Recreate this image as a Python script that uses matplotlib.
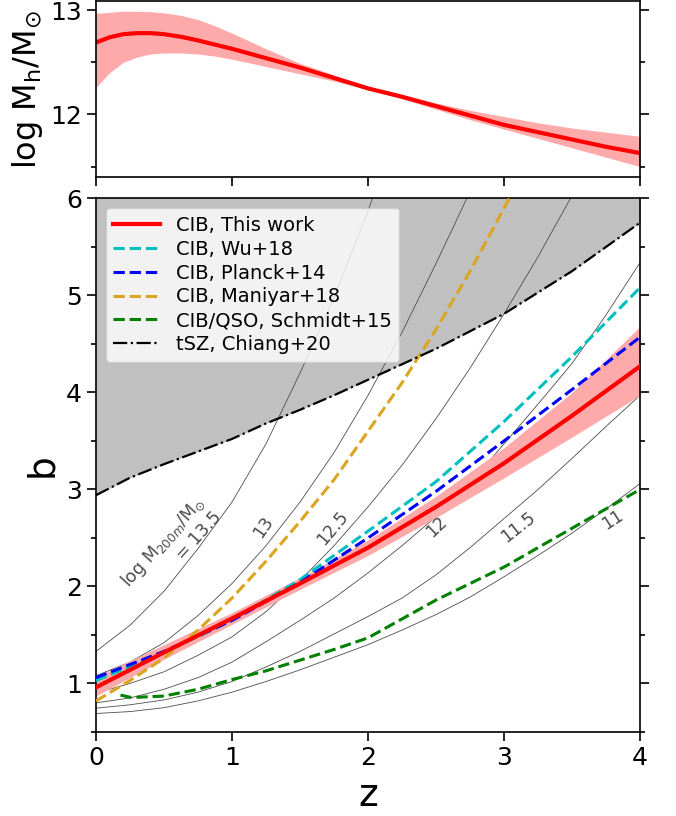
import matplotlib
matplotlib.use("Agg")
import matplotlib.pyplot as plt
from matplotlib.ticker import MultipleLocator

# --- top panel: halo mass vs redshift ---
z_top = [0.0, 0.1, 0.2, 0.3, 0.4, 0.5, 0.625, 0.75, 0.875, 1.0, 1.25, 1.5, 1.75,
         2.0, 2.25, 2.5, 2.75, 3.0, 3.25, 3.5, 3.75, 4.0]
logmh = [12.69, 12.74, 12.77, 12.78, 12.78, 12.77, 12.745, 12.71, 12.67, 12.63,
         12.54, 12.45, 12.35, 12.25, 12.17, 12.08, 11.99, 11.90, 11.83, 11.76,
         11.69, 11.63]
logmh_hi = [12.97, 12.98, 12.99, 12.99, 12.985, 12.975, 12.95, 12.91, 12.85, 12.78,
            12.63, 12.49, 12.38, 12.27, 12.19, 12.11, 12.04, 11.98, 11.92, 11.87,
            11.83, 11.79]
logmh_lo = [12.26, 12.40, 12.50, 12.55, 12.58, 12.59, 12.59, 12.58, 12.56, 12.53,
            12.46, 12.39, 12.32, 12.24, 12.15, 12.05, 11.95, 11.86, 11.77, 11.68,
            11.59, 11.50]

# --- bottom panel: bias vs redshift ---
z_b = [0.0, 0.5, 1.0, 1.5, 2.0, 2.5, 3.0, 3.5, 4.0]
b_this = [0.96, 1.32, 1.67, 2.03, 2.40, 2.82, 3.27, 3.76, 4.27]
b_this_hi = [1.07, 1.40, 1.73, 2.09, 2.48, 2.93, 3.43, 4.00, 4.68]
b_this_lo = [0.87, 1.25, 1.61, 1.97, 2.32, 2.71, 3.12, 3.54, 3.97]
b_wu = [1.03, 1.32, 1.65, 2.07, 2.57, 3.08, 3.70, 4.37, 5.08]
b_planck = [1.06, 1.33, 1.65, 2.04, 2.50, 2.98, 3.50, 4.03, 4.57]

z_man = [0.0, 0.25, 0.5, 0.75, 1.0, 1.25, 1.5, 1.75, 2.0, 2.25, 2.5, 2.75, 3.0, 3.25]
b_man = [0.82, 1.03, 1.26, 1.55, 1.88, 2.26, 2.67, 3.10, 3.60, 4.10, 4.65, 5.25, 5.90, 6.55]

z_sch = [0.18, 0.26, 0.5, 0.75, 1.0, 1.25, 1.5, 1.75, 2.0, 2.5, 3.0, 3.5, 4.0]
b_sch = [0.88, 0.855, 0.87, 0.94, 1.04, 1.13, 1.24, 1.35, 1.47, 1.86, 2.20, 2.60, 3.00]

z_tsz = [0.0, 0.25, 0.5, 0.75, 1.0, 1.25, 1.5, 1.75, 2.0, 2.5, 3.0, 3.5, 4.0]
b_tsz = [2.94, 3.12, 3.26, 3.39, 3.52, 3.68, 3.82, 3.97, 4.13, 4.45, 4.81, 5.25, 5.75]

# constant-mass bias tracks, log M200m = 13.5 ... 11
z_m = [0.0, 0.25, 0.5, 0.75, 1.0, 1.25, 1.5, 1.75, 2.0, 2.25, 2.5, 2.75, 3.0,
       3.25, 3.5, 3.75, 4.0]
b_m135 = [1.33, 1.60, 1.95, 2.39, 2.87, 3.47, 4.20, 4.98, 5.87, 6.90]
b_m13 = [1.08, 1.22, 1.42, 1.70, 2.03, 2.42, 2.87, 3.38, 3.97, 4.62, 5.33, 6.07, 6.90]
b_m125 = [0.90, 1.00, 1.12, 1.29, 1.48, 1.74, 2.06, 2.42, 2.82, 3.25, 3.73, 4.25,
          4.81, 5.40, 6.03]
b_m12 = [0.80, 0.85, 0.94, 1.06, 1.22, 1.43, 1.65, 1.88, 2.14, 2.42, 2.72, 3.06,
         3.47, 3.88, 4.30, 4.80, 5.34]
b_m115 = [0.745, 0.78, 0.83, 0.91, 1.02, 1.17, 1.33, 1.51, 1.69, 1.88, 2.12, 2.40,
          2.70, 3.00, 3.32, 3.65, 3.97]
b_m11 = [0.69, 0.71, 0.75, 0.82, 0.91, 1.02, 1.14, 1.27, 1.40, 1.55, 1.71, 1.89,
         2.10, 2.32, 2.55, 2.80, 3.06]
mass_tracks = [b_m135, b_m13, b_m125, b_m12, b_m115, b_m11]

track_labels = ["log M$_{200m}$/M$_{⊙}$\n= 13.5", "13", "12.5", "12", "11.5", "11"]
label_z = [0.55, 1.23, 1.74, 2.50, 3.10, 3.80]
label_b = [2.39, 2.61, 2.60, 2.61, 2.61, 2.69]
label_rot = [48, 55, 50, 44, 38, 33]

fig = plt.figure(figsize=(6.76, 8.16), dpi=100)
ax1 = fig.add_axes([0.142, 0.783, 0.805, 0.216])
ax2 = fig.add_axes([0.142, 0.103, 0.805, 0.654])

# top panel
ax1.fill_between(z_top, logmh_lo, logmh_hi, color="#ffaaaa", lw=0)
ax1.plot(z_top, logmh, color="red", lw=3)
ax1.set_xlim(0, 4)
ax1.set_ylim(11.4, 13.09)
ax1.yaxis.set_major_locator(MultipleLocator(1))
ax1.yaxis.set_minor_locator(MultipleLocator(0.5))
ax1.xaxis.set_major_locator(MultipleLocator(1))
ax1.tick_params(axis="x", labelbottom=False)
ax1.set_ylabel("log M$_\\mathrm{h}$/M$_{⊙}$", fontsize=23)

# bottom panel
ax2.fill_between(z_tsz, b_tsz, 6.5, color="silver", lw=0, zorder=0)
for bm in mass_tracks:
    ax2.plot(z_m[:len(bm)], bm, color="0.3", lw=0.6, zorder=1)
for txt, lz, lb, rot in zip(track_labels, label_z, label_b, label_rot):
    ax2.text(lz, lb, txt, rotation=rot, ha="center", va="center", fontsize=12.5,
             color="0.3", multialignment="right", rotation_mode="anchor")

ax2.fill_between(z_b, b_this_lo, b_this_hi, color="#ffaaaa", lw=0, zorder=2)
ax2.plot(z_b, b_this, color="red", lw=3, label="CIB, This work", zorder=5)
ax2.plot(z_b, b_wu, color="c", ls="--", lw=2.2, label="CIB, Wu+18", zorder=3)
ax2.plot(z_b, b_planck, color="blue", ls="--", lw=2.2, label="CIB, Planck+14", zorder=4)
ax2.plot(z_man, b_man, color="goldenrod", ls="--", lw=2.2, label="CIB, Maniyar+18", zorder=3)
ax2.plot(z_sch, b_sch, color="green", ls="--", lw=2.2, label="CIB/QSO, Schmidt+15", zorder=3)
ax2.plot(z_tsz, b_tsz, color="black", ls="-.", lw=1.6, label="tSZ, Chiang+20", zorder=3)

ax2.set_xlim(0, 4)
ax2.set_ylim(0.5, 6)
ax2.xaxis.set_major_locator(MultipleLocator(1))
ax2.yaxis.set_major_locator(MultipleLocator(1))
ax2.yaxis.set_minor_locator(MultipleLocator(0.5))
ax2.set_xlabel("z", fontsize=27, labelpad=6)
ax2.set_ylabel("b", fontsize=27)
ax2.legend(loc="upper left", fontsize=14, labelspacing=0.25, handlelength=2.4)

for ax in (ax1, ax2):
    ax.tick_params(which="both", right=True, labelsize=18, width=1.2)
    ax.tick_params(which="major", length=6.5)
    ax.tick_params(which="minor", length=3.5)
    for sp in ax.spines.values():
        sp.set_linewidth(1.2)

fig.savefig("out.png", dpi=100)
